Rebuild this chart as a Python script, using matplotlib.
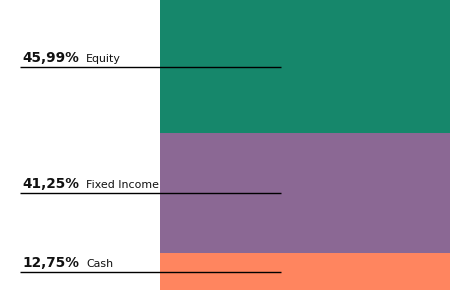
import matplotlib
matplotlib.use("Agg")
import matplotlib.pyplot as plt
import matplotlib.transforms as mtransforms

categories = ["Equity", "Fixed Income", "Cash"]
shares = [45.99, 41.25, 12.75]
share_labels = ["45,99%", "41,25%", "12,75%"]
colors = ["#16876b", "#8b6894", "#ff855f"]

fig = plt.figure(figsize=(4.65, 2.9), dpi=100)
# axes only covers the bar, labels/leaders sit out to the left
ax = fig.add_axes([160 / 465, 0, 290 / 465, 1])

bottom = 0
mids = []
for cat, val, col in zip(categories, shares, colors):
    ax.bar(0, val, width=1, bottom=bottom, color=col, linewidth=0)
    mids.append(bottom + val / 2)
    bottom += val

ax.set_xlim(-0.5, 0.5)
ax.set_ylim(sum(shares), 0)
ax.axis("off")

trans = mtransforms.blended_transform_factory(ax.transAxes, ax.transData)
x_left = (20 - 160) / 290
x_right = (281 - 160) / 290
for cat, lab, mid in zip(categories, share_labels, mids):
    ax.plot([x_left, x_right], [mid, mid], color="black", lw=1,
            transform=trans, clip_on=False, solid_capstyle="butt")
    ax.annotate(lab, xy=(x_left, mid), xycoords=trans,
                xytext=(1.5, 3.6), textcoords="offset points",
                ha="left", va="baseline", fontsize=9.8, fontweight="bold",
                color="#111111", annotation_clip=False)
    ax.annotate(cat, xy=(x_left, mid), xycoords=trans,
                xytext=(47.5, 3.6), textcoords="offset points",
                ha="left", va="baseline", fontsize=7.9,
                color="#111111", annotation_clip=False)

fig.savefig("out.png", dpi=100)
